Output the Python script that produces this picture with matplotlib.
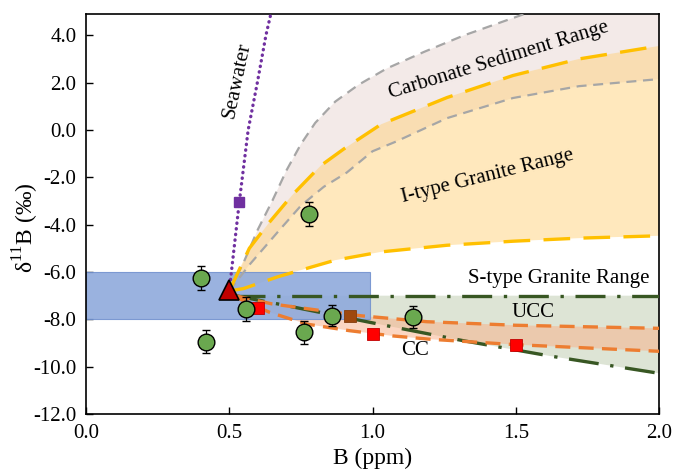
import numpy as np
import matplotlib.pyplot as plt
from matplotlib.patches import Rectangle

plt.rcParams['font.family'] = ['Liberation Serif', 'DejaVu Serif']
plt.rcParams['mathtext.fontset'] = 'custom'
plt.rcParams['mathtext.rm'] = 'Liberation Serif'
plt.rcParams['axes.unicode_minus'] = False

# samples (B ppm, d11B permil, 1 sd)
samp_b = [0.40, 0.42, 0.56, 0.76, 0.78, 0.86, 1.14]
samp_d = [-6.25, -8.95, -7.55, -8.55, -3.55, -7.85, -7.9]
samp_err = [0.5, 0.48, 0.5, 0.48, 0.5, 0.45, 0.45]

# end members
src_b, src_d = 0.50, -6.75          # source (triangle)
sw_b, sw_d = 0.535, -3.05            # seawater mix point
ucc_b, ucc_d = [0.60, 1.00, 1.50], [-7.5, -8.6, -9.1]
cc_b, cc_d = 0.92, -7.85

# mixing curves
sw_x = [0.50, 0.535, 0.566, 0.598, 0.628, 0.645]
sw_y = [-6.8, -3.05, 0.0, 2.0, 4.0, 4.9]

carb_hi_x = [0.50, 0.55, 0.60, 0.65, 0.70, 0.75, 0.80, 0.87, 0.95, 1.05, 1.18, 1.32, 1.53, 2.0]
carb_hi_y = [-6.8, -5.6, -4.2, -3.0, -1.7, -0.6, 0.3, 1.2, 1.9, 2.6, 3.3, 4.0, 4.9, 6.2]
carb_lo_x = [0.50, 0.57, 0.67, 0.75, 0.83, 0.91, 1.00, 1.08, 1.26, 1.49, 1.72, 2.0]
carb_lo_y = [-6.8, -5.7, -4.3, -3.2, -2.4, -1.8, -0.9, -0.5, 0.5, 1.35, 1.85, 2.15]

ityp_hi_x = [0.50, 0.57, 0.64, 0.72, 0.82, 0.90, 1.03, 1.26, 1.49, 1.72, 2.0]
ityp_hi_y = [-6.8, -5.0, -3.9, -2.75, -1.5, -0.8, 0.24, 1.37, 2.3, 3.0, 3.55]
ityp_lo_x = [0.50, 0.55, 0.67, 0.87, 1.03, 1.26, 1.49, 1.72, 2.0]
ityp_lo_y = [-6.8, -6.7, -6.2, -5.5, -5.15, -4.87, -4.7, -4.57, -4.47]

styp_hi_x = [0.52, 2.0]
styp_hi_y = [-7.0, -7.0]
styp_lo_x = [0.52, 0.67, 1.05, 1.32, 1.62, 2.0]
styp_lo_y = [-7.0, -7.35, -8.27, -8.91, -9.55, -10.28]

ucc_x = [0.52, 0.65, 0.82, 0.96, 1.19, 1.5, 2.0]
ucc_y = [-7.0, -7.35, -7.63, -7.85, -8.1, -8.25, -8.38]
cc_x = [0.52, 0.64, 0.77, 0.92, 1.07, 1.2, 1.5, 1.68, 2.0]
cc_y = [-7.05, -7.7, -8.2, -8.48, -8.7, -8.84, -9.07, -9.17, -9.35]

# sample field box
box_b = (0.0, 0.99)
box_d = (-8.0, -6.0)


def band(ax, xa, ya, xb, yb, **kw):
    ax.fill(np.r_[xa, xb[::-1]], np.r_[ya, yb[::-1]], lw=0, **kw)


fig = plt.figure(figsize=(6.73, 4.73), dpi=100)
ax = fig.add_axes([0.1278, 0.1247, 0.8514, 0.8457])

band(ax, carb_hi_x, carb_hi_y, carb_lo_x, carb_lo_y, color='#F3EAE8', zorder=1)
band(ax, ityp_hi_x, ityp_hi_y, ityp_lo_x, ityp_lo_y, color='#FFD27D', alpha=0.5, zorder=1.1)
band(ax, styp_hi_x, styp_hi_y, styp_lo_x, styp_lo_y, color='#DDE4D5', zorder=1.2)
band(ax, ucc_x, ucc_y, cc_x, cc_y, color='#F9AF87', alpha=0.5, zorder=1.3)

ax.add_patch(Rectangle((box_b[0], box_d[0]), box_b[1] - box_b[0], box_d[1] - box_d[0],
                       facecolor='#8FAADC', edgecolor='#7393CF', lw=0.8, alpha=0.9, zorder=2))

ax.plot(carb_hi_x, carb_hi_y, color='#A6A6A6', lw=1.6, dashes=(4.5, 3), zorder=3)
ax.plot(carb_lo_x, carb_lo_y, color='#A6A6A6', lw=1.6, dashes=(4.5, 3), zorder=3)
ax.plot(ityp_hi_x, ityp_hi_y, color='#FFC000', lw=2.4, dashes=(8, 4), zorder=3)
ax.plot(ityp_lo_x, ityp_lo_y, color='#FFC000', lw=2.4, dashes=(8, 4), zorder=3)
ax.plot(styp_hi_x, styp_hi_y, color='#385723', lw=2.4, dashes=(9, 3.5, 1, 3.5), zorder=3)
ax.plot(styp_lo_x, styp_lo_y, color='#385723', lw=2.4, dashes=(9, 3.5, 1, 3.5), zorder=3)
ax.plot(ucc_x, ucc_y, color='#ED7D31', lw=2.4, dashes=(4.5, 2.5), zorder=3)
ax.plot(cc_x, cc_y, color='#ED7D31', lw=2.4, dashes=(4.5, 2.5), zorder=3)
ax.plot(sw_x, sw_y, color='#7030A0', lw=2.4, ls=(0, (0.1, 1.6)), dash_capstyle='round', zorder=3)

ax.plot(sw_b, sw_d, 's', color='#7030A0', ms=7, zorder=5)
ax.plot(ucc_b, ucc_d, 's', color='#FF0000', mec='#C00000', mew=0.6, ms=8.5, ls='none', zorder=5)
ax.plot(cc_b, cc_d, 's', color='#9E480E', mec='#843C0C', mew=0.6, ms=8.5, zorder=5)
ax.errorbar(samp_b, samp_d, yerr=samp_err, fmt='o', ms=12, mfc='#6AA84F', mec='black',
            mew=1, ecolor='black', elinewidth=0.9, capsize=3, capthick=0.9, zorder=6)
ax.plot(src_b, src_d, '^', color='#C00000', mec='black', mew=1.2, ms=15, zorder=7)

fs = 15
ax.text(0.527, 2.1, 'Seawater', rotation=78, ha='center', va='center', fontsize=fs)
ax.text(1.44, 2.95, 'Carbonate Sediment Range', rotation=17, ha='center', va='center', fontsize=fs)
ax.text(1.40, -1.95, 'I-type Granite Range', rotation=14, ha='center', va='center', fontsize=fs)
ax.text(1.65, -6.26, 'S-type Granite Range', ha='center', va='center', fontsize=fs)
ax.text(1.56, -7.73, 'UCC', ha='center', va='center', fontsize=fs)
ax.text(1.15, -9.33, 'CC', ha='center', va='center', fontsize=fs)

ax.set_xlim(0, 2.0)
ax.set_ylim(-12, 4.9)
ax.set_xticks(np.arange(0, 2.01, 0.5))
ax.set_yticks(np.arange(-12, 4.1, 2))
ax.xaxis.set_major_formatter('{x:.1f}')
ax.yaxis.set_major_formatter('{x:.1f}')
ax.tick_params(direction='in', length=5, width=1, labelsize=15, pad=7)
for s in ax.spines.values():
    s.set_linewidth(1.2)

ax.set_xlabel('B (ppm)', fontsize=17, labelpad=4)
ax.set_ylabel('δ$^{11}$B (‰)', fontsize=17)
ax.yaxis.set_label_coords(-0.078, 0.465)

plt.savefig('out.png', dpi=100)
